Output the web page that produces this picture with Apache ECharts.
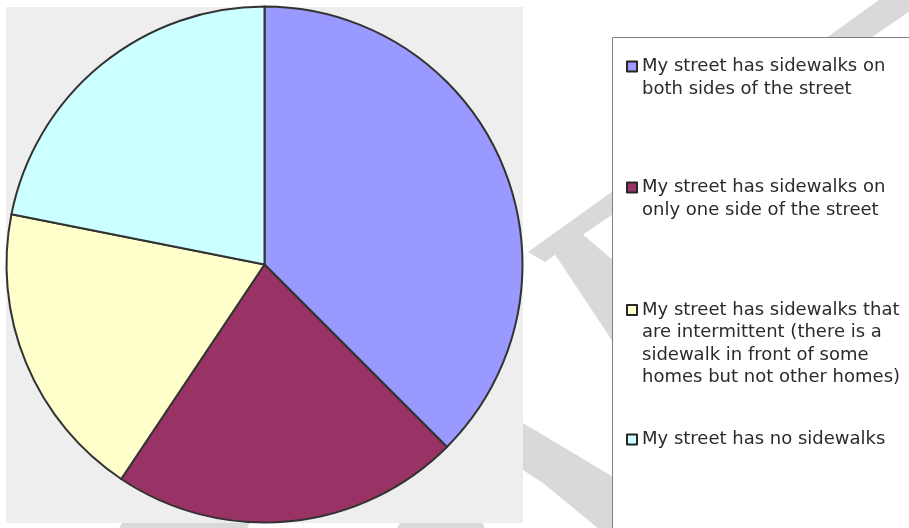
<!DOCTYPE html>
<html>
<head>
<meta charset="utf-8">
<script src="https://cdn.jsdelivr.net/npm/echarts@6/dist/echarts.min.js"></script>
<style>
  html, body { margin: 0; padding: 0; background: #fff; }
  #chart { width: 909px; height: 528px; }
</style>
</head>
<body>
<div id="chart"></div>
<script>
const categories = [
  "My street has sidewalks on both sides of the street",
  "My street has sidewalks on only one side of the street",
  "My street has sidewalks that are intermittent (there is a sidewalk in front of some homes but not other homes)",
  "My street has no sidewalks"
];
// legend text as it wraps in the original
const legendLines = [
  ["My street has sidewalks on", "both sides of the street"],
  ["My street has sidewalks on", "only one side of the street"],
  ["My street has sidewalks that", "are intermittent (there is a", "sidewalk in front of some", "homes but not other homes)"],
  ["My street has no sidewalks"]
];
const values = [12, 7, 6, 7];
const colors = ["#9999ff", "#993366", "#ffffcc", "#ccffff"];

const LINE = 22.5;
const legendCenters = [66.5, 187.5, 310, 439.5];

const chart = echarts.init(document.getElementById("chart"));

// one legend per entry so the uneven spacing can be kept.
// legend text is centred on the icon, so blank lines are put in front
// to bring the first real line level with the icon.
const legends = categories.map((name, i) => {
  const n = legendLines[i].length;
  const pad = new Array(n - 1).fill("");
  return {
    data: [name],
    orient: "vertical",
    left: 626,
    top: legendCenters[i] - (2 * n - 1) * LINE / 2,
    padding: 0,
    itemWidth: 10,
    itemHeight: 10,
    icon: "rect",
    selectedMode: false,
    itemStyle: { borderColor: "#262626", borderWidth: 2 },
    formatter: () => pad.concat(legendLines[i]).join("\n"),
    textStyle: {
      fontFamily: "DejaVu Sans",
      fontSize: 18,
      color: "#2b2b2b",
      lineHeight: LINE,
    },
  };
});

const wm = { fill: "#d9d9d9" };

const option = {
  animation: false,
  backgroundColor: "#fff",
  color: colors,
  legend: legends,
  graphic: [
    // faint watermark strokes behind the chart
    { type: "polygon", z: 0, z2: 0, silent: true, shape: { points: [[879, 0], [926, 0], [578, 238], [545, 262], [528, 252]] }, style: wm },
    { type: "polygon", z: 0, z2: 0, silent: true, shape: { points: [[552, 250], [580, 232], [615, 262], [615, 345]] }, style: wm },
    { type: "polygon", z: 0, z2: 0, silent: true, shape: { points: [[523, 423], [615, 478], [615, 530], [600, 530], [543, 483], [523, 470]] }, style: wm },
    { type: "polygon", z: 0, z2: 0, silent: true, shape: { points: [[122, 523], [250, 523], [246, 530], [118, 530]] }, style: wm },
    { type: "polygon", z: 0, z2: 0, silent: true, shape: { points: [[400, 523], [482, 523], [486, 530], [396, 530]] }, style: wm },
    // plot area
    { type: "rect", z: 0, z2: 1, silent: true, shape: { x: 6, y: 7, width: 517, height: 516 }, style: { fill: "#eeeeee" } },
    // legend box
    { type: "rect", z: 0, z2: 1, silent: true, shape: { x: 612.5, y: 37.5, width: 310, height: 510 }, style: { fill: "#fff", stroke: "#7f7f7f", lineWidth: 1 } },
  ],
  series: [
    {
      type: "pie",
      center: [264.5, 264.5],
      radius: 258,
      startAngle: 90,
      clockwise: true,
      silent: true,
      label: { show: false },
      labelLine: { show: false },
      itemStyle: { borderColor: "#333", borderWidth: 2 },
      emphasis: { disabled: true },
      data: categories.map((name, i) => ({ name, value: values[i] })),
    },
  ],
};

chart.setOption(option);
</script>
</body>
</html>
